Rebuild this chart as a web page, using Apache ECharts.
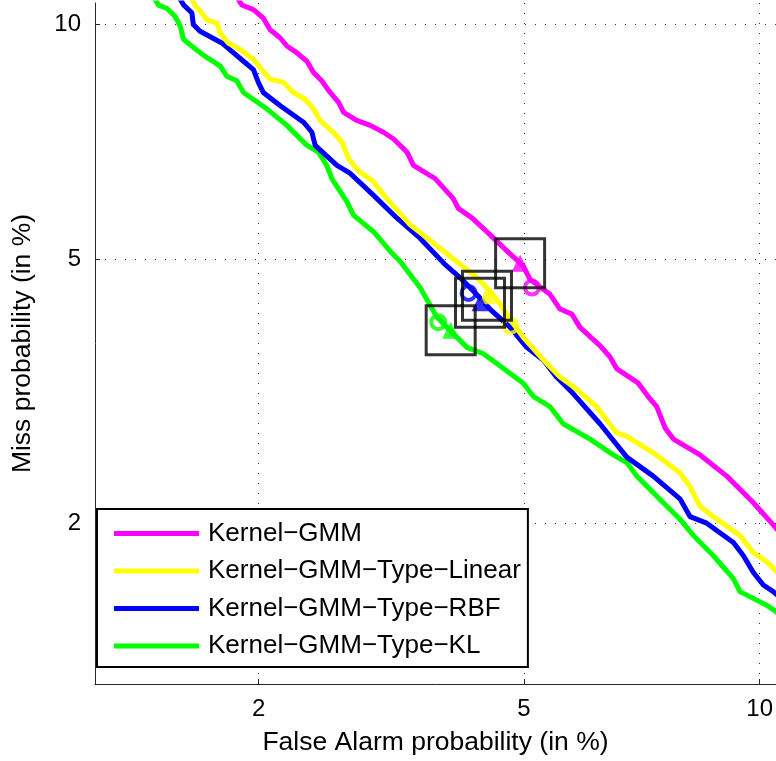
<!DOCTYPE html>
<html><head><meta charset="utf-8">
<script src="https://cdn.jsdelivr.net/npm/echarts@6/dist/echarts.min.js"></script>
<style>html,body{margin:0;padding:0;background:#fff}#c{width:776px;height:761px}</style>
</head><body><div id="c"></div>
<script>
// ---- data (all values in percent) ----
const seriesNames = ['Kernel\u2212GMM', 'Kernel\u2212GMM\u2212Type\u2212Linear', 'Kernel\u2212GMM\u2212Type\u2212RBF', 'Kernel\u2212GMM\u2212Type\u2212KL'];
const seriesColors = ['#ff00ff', '#ffff00', '#0000ff', '#00ff00'];
const tickPercents = [2, 5, 10];
const xRangePercent = [1.056, 10.448];
const yRangePercent = [1.065, 10.588];

// [false alarm %, miss %]
const kernelGmm = [[1.838,10.79],[1.879,10.53],[1.962,10.40],[2.035,10.17],[2.088,9.85],[2.168,9.63],[2.221,9.42],[2.302,9.25],[2.390,9.03],[2.447,8.75],[2.521,8.55],[2.598,8.27],[2.678,8.04],[2.726,7.81],[2.855,7.63],[2.994,7.52],[3.135,7.37],[3.244,7.23],[3.400,6.95],[3.476,6.68],[3.741,6.42],[3.974,6.04],[4.041,5.86],[4.227,5.69],[4.483,5.40],[4.735,5.13],[4.990,4.89],[5.100,4.68],[5.428,4.46],[5.601,4.25],[5.809,4.18],[5.957,4.00],[6.334,3.76],[6.526,3.62],[6.655,3.48],[7.099,3.31],[7.306,3.16],[7.491,3.05],[7.676,2.83],[7.861,2.72],[8.482,2.57],[9.140,2.38],[9.827,2.16],[10.329,2.00],[10.70,1.89]];
const kernelGmmLinear = [[1.542,10.79],[1.571,10.53],[1.613,10.31],[1.645,10.12],[1.709,10.03],[1.731,9.76],[1.784,9.50],[1.867,9.33],[1.962,9.08],[2.035,8.78],[2.088,8.59],[2.194,8.51],[2.273,8.27],[2.375,8.11],[2.447,7.89],[2.506,7.63],[2.629,7.37],[2.710,7.16],[2.774,6.82],[2.870,6.58],[3.029,6.36],[3.171,6.04],[3.438,5.57],[3.846,5.13],[4.296,4.71],[4.483,4.51],[4.634,4.32],[4.759,4.14],[4.990,3.87],[5.374,3.54],[5.601,3.38],[5.837,3.27],[6.270,3.05],[6.655,2.78],[6.859,2.75],[7.415,2.59],[8.010,2.41],[8.243,2.29],[8.482,2.13],[8.800,2.05],[9.479,1.91],[9.827,1.79],[10.193,1.73],[10.70,1.61]];
const kernelGmmRbf = [[1.472,10.79],[1.503,10.53],[1.552,10.31],[1.561,9.99],[1.602,9.81],[1.741,9.50],[1.890,9.03],[1.962,8.82],[1.998,8.51],[2.035,8.27],[2.168,7.96],[2.360,7.59],[2.433,7.37],[2.462,7.09],[2.662,6.68],[2.791,6.52],[3.029,6.10],[3.283,5.69],[3.554,5.34],[3.868,4.91],[4.064,4.71],[4.273,4.48],[4.483,4.25],[4.785,4.00],[5.046,3.74],[5.318,3.58],[5.542,3.38],[5.837,3.19],[6.334,2.87],[6.859,2.55],[7.415,2.38],[8.010,2.19],[8.243,2.05],[8.642,2.00],[9.308,1.86],[9.564,1.77],[9.827,1.66],[10.100,1.58],[10.373,1.54],[10.70,1.48]];
const kernelGmmKl = [[1.334,10.79],[1.362,10.53],[1.407,10.44],[1.455,10.21],[1.484,9.94],[1.503,9.59],[1.613,9.21],[1.731,8.91],[1.774,8.66],[1.843,8.55],[1.890,8.27],[2.062,7.89],[2.221,7.52],[2.390,7.09],[2.491,6.95],[2.566,6.68],[2.614,6.42],[2.759,5.98],[2.822,5.74],[3.029,5.45],[3.206,5.13],[3.322,4.96],[3.554,4.56],[3.762,4.14],[4.158,3.74],[4.388,3.66],[4.584,3.54],[4.990,3.31],[5.154,3.16],[5.428,3.05],[5.660,2.87],[6.142,2.72],[6.590,2.57],[6.859,2.50],[7.066,2.38],[7.714,2.13],[8.010,2.03],[8.322,1.91],[8.800,1.77],[9.308,1.62],[9.479,1.54],[9.827,1.50],[10.193,1.46],[10.70,1.39]];

// operating points per system (same order as seriesNames)
const actualDcfPoints = [[4.94,4.93],[4.44,4.44],[4.34,4.34],[3.94,3.96]];   // squares + triangles
const minDcfPoints = [[5.13,4.56],[4.79,4.02],[4.18,4.48],[3.78,4.07]];      // circles

// ---- probit (normal deviate) scale ----
function probit(p){
  const a=[-3.969683028665376e+01,2.209460984245205e+02,-2.759285104469687e+02,1.383577518672690e+02,-3.066479806614716e+01,2.506628277459239e+00];
  const b=[-5.447609879822406e+01,1.615858368580409e+02,-1.556989798598866e+02,6.680131188771972e+01,-1.328068155288572e+01];
  const c=[-7.784894002430293e-03,-3.223964580411365e-01,-2.400758277161838e+00,-2.549732539343734e+00,4.374664141464968e+00,2.938163982698783e+00];
  const d=[7.784695709041462e-03,3.224671290700398e-01,2.445134137142996e+00,3.754408661907416e+00];
  const pl=0.02425, ph=1-pl; let q,r;
  if(p<pl){q=Math.sqrt(-2*Math.log(p));return (((((c[0]*q+c[1])*q+c[2])*q+c[3])*q+c[4])*q+c[5])/((((d[0]*q+d[1])*q+d[2])*q+d[3])*q+1);}
  if(p<=ph){q=p-0.5;r=q*q;return (((((a[0]*r+a[1])*r+a[2])*r+a[3])*r+a[4])*r+a[5])*q/(((((b[0]*r+b[1])*r+b[2])*r+b[3])*r+b[4])*r+1);}
  q=Math.sqrt(-2*Math.log(1-p));return -(((((c[0]*q+c[1])*q+c[2])*q+c[3])*q+c[4])*q+c[5])/((((d[0]*q+d[1])*q+d[2])*q+d[3])*q+1);
}
const z = pct => probit(pct / 100);
const toZ = arr => arr.map(pt => [z(pt[0]), z(pt[1])]);
const tickZ = tickPercents.map(z);
const tickLabel = v => { let best = 0; for (let i = 1; i < tickZ.length; i++) if (Math.abs(tickZ[i]-v) < Math.abs(tickZ[best]-v)) best = i; return String(tickPercents[best]); };

const FONT = 'Liberation Sans, Arial, Helvetica, sans-serif';
const curves = [kernelGmm, kernelGmmLinear, kernelGmmRbf, kernelGmmKl];
const zOrder = [5, 4, 3, 2];

function axis(name, range, gap, labelMargin){
  return {
    type: 'value', min: z(range[0]), max: z(range[1]),
    name: name, nameLocation: 'middle', nameGap: gap,
    nameTextStyle: {fontSize: 26.5, color: '#000', fontFamily: FONT},
    axisLine: {show: true, onZero: false, lineStyle: {color: '#262626', width: 1}},
    axisTick: {show: true, inside: true, length: 5, customValues: tickZ, lineStyle: {color: '#262626', width: 1}},
    axisLabel: {show: true, customValues: tickZ, formatter: tickLabel, fontSize: 24, color: '#000', fontFamily: FONT, margin: labelMargin},
    splitLine: {show: true, lineStyle: {color: '#333', width: 1, type: [1, 9]}},
    minorTick: {show: false}, minorSplitLine: {show: false}
  };
}

const series = curves.map((data, i) => ({
  name: seriesNames[i], type: 'line', data: toZ(data), showSymbol: false, symbol: 'none',
  lineStyle: {color: seriesColors[i], width: 5, join: 'round', cap: 'round'},
  itemStyle: {color: seriesColors[i]}, z: zOrder[i], clip: true, silent: true
}));
series.push({
  name: 'actual', type: 'scatter', z: 10, silent: true, symbol: 'triangle', symbolSize: 17,
  data: actualDcfPoints.map((p, i) => ({value: [z(p[0]), z(p[1])], itemStyle: {color: seriesColors[i]}}))
});
series.push({
  name: 'min', type: 'scatter', z: 10, silent: true, symbol: 'circle', symbolSize: 14,
  data: minDcfPoints.map((p, i) => ({value: [z(p[0]), z(p[1])], itemStyle: {color: 'rgba(0,0,0,0)', borderColor: seriesColors[i], borderWidth: 4}}))
});
series.push({
  name: 'box', type: 'scatter', z: 11, silent: true, symbol: 'rect', symbolSize: 49,
  itemStyle: {color: 'rgba(0,0,0,0)', borderColor: '#000', borderWidth: 3},
  data: actualDcfPoints.map(p => [z(p[0]), z(p[1])])
});

const chart = echarts.init(document.getElementById('c'), null, {renderer: 'canvas'});
chart.setOption({
  animation: false,
  backgroundColor: '#fff',
  grid: {left: 95, right: 0, top: 3, bottom: 72, containLabel: false},
  xAxis: axis('False Alarm probability (in %)', xRangePercent, 45, 13),
  yAxis: axis('Miss probability (in %)', yRangePercent, 59, 14),
  legend: {
    data: seriesNames.map(n => ({name: n, icon: 'rect'})),
    orient: 'vertical', left: 97, top: 509,
    itemWidth: 85, itemHeight: 5, itemGap: 11.5,
    padding: [11.5, 7, 8, 17],
    backgroundColor: '#fff', borderColor: '#000', borderWidth: 2,
    textStyle: {fontSize: 26, color: '#000', fontFamily: FONT, lineHeight: 26, padding: [0, 0, 0, 4]},
    selectedMode: false, z: 20
  },
  series: series
});
</script></body></html>
